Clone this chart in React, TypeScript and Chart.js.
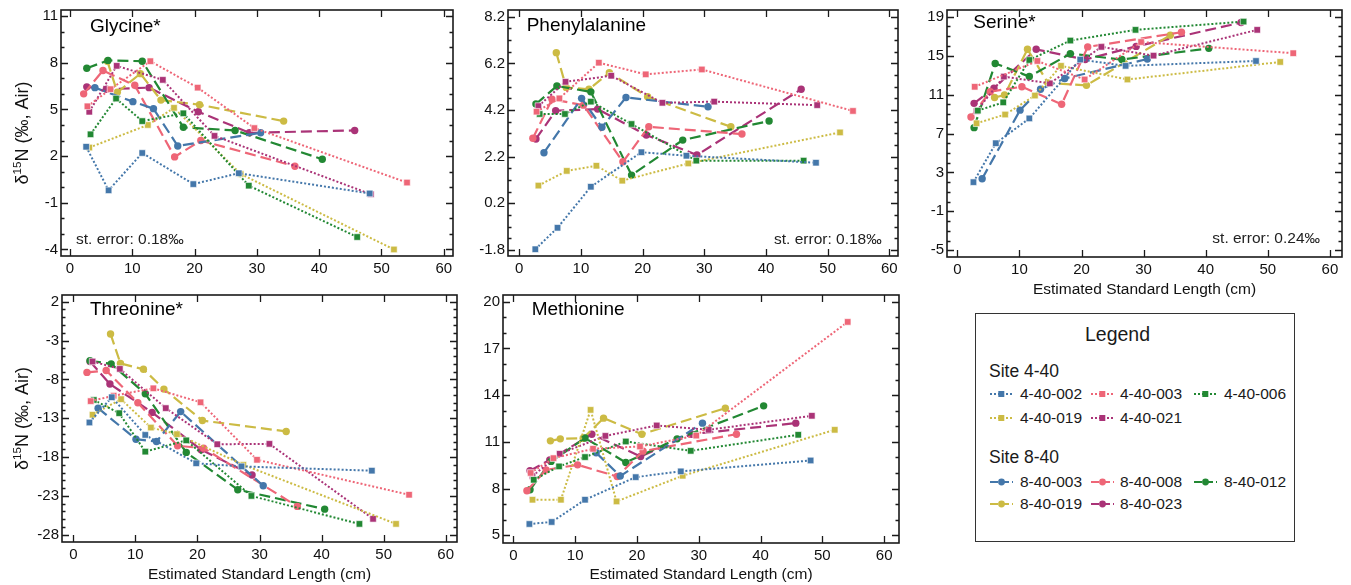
import React, { useEffect, useRef } from 'react';
import { Chart, registerables } from 'chart.js';

Chart.register(...registerables);

const FONT = '"Liberation Sans", Arial, Helvetica, sans-serif';

// ---------- specimens ----------
const SPECIMENS = ['4-40-002', '4-40-003', '4-40-006', '4-40-019', '4-40-021', '8-40-003', '8-40-008', '8-40-012', '8-40-019', '8-40-023'];
const COLORS = ['#4477AA', '#EE6677', '#228833', '#CCBB44', '#AA3377', '#4477AA', '#EE6677', '#228833', '#CCBB44', '#AA3377'];

// estimated standard length (cm) of each sampled increment, per specimen
const LEN_4_40_002 = [2.6, 6.2, 11.6, 19.8, 27.1, 48.1];
const LEN_4_40_003 = [2.8, 6.5, 12.9, 20.5, 29.6, 54.1];
const LEN_4_40_006 = [3.3, 7.4, 11.6, 18.2, 28.7, 46.1];
const LEN_4_40_019 = [3.1, 7.7, 12.5, 16.7, 27.4, 52.0];
const LEN_4_40_021 = [3.1, 7.5, 14.9, 23.2, 31.6, 48.3];
const LEN_8_40_003 = [4.0, 10.1, 13.4, 17.3, 30.6];
const LEN_8_40_008 = [2.2, 5.3, 10.4, 16.8, 21.0, 36.1];
const LEN_8_40_012 = [2.7, 6.1, 11.6, 18.2, 26.5, 40.5];
const LEN_8_40_019 = [6.0, 7.6, 11.3, 14.6, 20.8, 34.3];
const LEN_8_40_023 = [2.7, 5.9, 12.7, 20.6, 28.8, 45.7];
const LENGTHS = [LEN_4_40_002, LEN_4_40_003, LEN_4_40_006, LEN_4_40_019, LEN_4_40_021, LEN_8_40_003, LEN_8_40_008, LEN_8_40_012, LEN_8_40_019, LEN_8_40_023];

// d15N values, rows in SPECIMENS order (null = not shown)
const GLYCINE = [
  [2.6, -0.2, 2.2, 0.2, 0.9, -0.4],
  [5.2, 6.3, 8.1, 6.4, 3.8, 0.3],
  [3.4, 5.7, 4.25, 4.75, 0.1, -3.2],
  [2.55, null, 4.0, 5.1, 0.85, -4.0],
  [4.85, 7.8, 6.9, 3.3, null, -0.45],
  [6.4, 5.5, 5.05, 2.65, 3.5],
  [6.0, 7.5, 6.55, 1.95, 3.0, 1.35],
  [7.65, 8.15, 8.1, 3.85, 3.65, 1.8],
  [8.1, 6.1, 7.3, 5.6, 5.3, 4.25],
  [6.45, 6.3, 6.4, 4.85, 3.5, 3.65],
];
const PHENYLALANINE = [
  [-1.77, -0.85, 0.91, 2.39, 2.24, 1.94],
  [4.13, 4.7, 6.23, 5.73, 5.94, 4.16],
  [4.03, 4.03, 4.56, 3.6, 2.03, 2.03],
  [0.96, 1.59, 1.81, 1.17, 1.91, 3.24],
  [4.37, 5.41, 5.67, 4.51, 4.56, 4.41],
  [2.37, 4.7, 3.46, 4.74, 4.34],
  [2.99, 4.66, 4.41, 1.98, 3.48, 3.17],
  [4.46, 5.23, 4.98, 1.41, 2.91, 3.73],
  [6.66, 5.17, 5.09, 5.8, 4.77, 3.48],
  [2.96, 4.17, 4.24, 3.13, 2.27, 5.09],
];
const SERINE = [
  [2.0, 6.0, 8.55, 14.6, 13.95, 14.45],
  [11.8, null, 14.45, 12.55, 16.4, 15.25],
  [9.35, 10.2, 14.55, 16.55, 17.65, 18.5],
  [8.05, 8.95, 10.9, 13.95, 12.55, 14.35],
  [9.3, 12.85, 12.15, 15.9, 15.0, 17.65],
  [2.35, 9.4, 11.55, 12.65, 14.65],
  [8.7, 11.3, 11.8, 10.0, 15.9, 17.4],
  [7.6, 14.2, 12.85, 15.2, 14.6, 15.75],
  [10.7, 10.95, 15.65, 12.2, 11.95, 17.1],
  [10.1, 11.65, 15.65, 14.6, 15.95, 18.4],
];
const THREONINE = [
  [-13.55, -10.3, -15.15, -18.8, -19.2, -19.75],
  [-10.8, -10.1, -9.15, -10.95, -18.35, -22.85],
  [-10.65, -12.35, -17.3, -15.85, -23.0, -26.6],
  [-12.55, -10.55, -14.2, -15.05, -19.0, -26.6],
  [-5.7, -6.65, -11.7, -16.35, -16.3, -25.95],
  [-11.7, -15.7, -16.0, -12.15, -21.7],
  [-7.1, -6.85, -11.0, -16.55, -16.85, -24.35],
  [-5.6, -6.0, -9.85, -17.4, -22.2, -24.7],
  [-2.15, -5.95, -6.7, -9.25, -13.3, -14.7],
  [-5.7, -8.6, -12.25, -17.05, -20.3, null],
];
const METHIONINE = [
  [5.72, 5.85, 7.28, 8.73, 9.1, 9.8],
  [9.0, 9.95, 10.55, 10.7, 11.4, 18.7],
  [8.56, 9.42, 10.02, 11.02, 10.42, 11.45],
  [7.28, 7.28, 13.05, 7.17, 8.82, 11.77],
  [8.8, 10.23, 11.38, 12.05, 11.77, 12.67],
  [null, null, 10.3, 8.8, 12.2],
  [7.86, 9.2, 9.52, 8.77, 10.4, 11.49],
  [7.92, 9.74, 11.24, 9.67, 11.19, 13.31],
  [11.06, 11.19, 11.23, 12.52, 11.49, 13.16],
  [9.14, 9.84, 11.49, 10.06, 11.49, 12.2],
];

// ---------- ticks ----------
const X_TICKS = [0, 10, 20, 30, 40, 50, 60];
const GLY_TICKS = [11, 8, 5, 2, -1, -4];
const PHE_TICKS = [8.2, 6.2, 4.2, 2.2, 0.2, -1.8];
const SER_TICKS = [19, 15, 11, 7, 3, -1, -5];
const THR_TICKS = [2, -3, -8, -13, -18, -23, -28];
const MET_TICKS = [20, 17, 14, 11, 8, 5];

const X_TITLE = 'Estimated Standard Length (cm)';

type PanelDef = {
  title: string;
  rows: (number | null)[][];
  yTicks: number[];
  minor: number;
  yRange: [number, number];
  xRange: [number, number];
  canvas: [number, number, number, number]; // left, top, width, height
  area: [number, number, number, number]; // left, top, right, bottom (page coords)
  titleAt: [number, number];
  yTitle: boolean;
  xTitleY?: number;
  stErr?: string;
  stErrSide?: 'left' | 'right';
  stErrAt?: [number, number];
};

const PANELS: PanelDef[] = [
  { title: 'Glycine*', rows: GLYCINE, yTicks: GLY_TICKS, minor: 1, yRange: [-4.42, 11.39], xRange: [-1.44, 61.48],
    canvas: [0, 0, 460, 287], area: [61, 10, 453, 256], titleAt: [29, 16.7], yTitle: true,
    stErr: 'st. error: 0.18‰', stErrSide: 'left', stErrAt: [15, 16.7] },
  { title: 'Phenylalanine', rows: PHENYLALANINE, yTicks: PHE_TICKS, minor: 0.5, yRange: [-2.06, 8.49], xRange: [-1.83, 61.4],
    canvas: [462, 0, 443, 287], area: [508, 10, 898, 256], titleAt: [18.7, 16], yTitle: false,
    stErr: 'st. error: 0.18‰', stErrSide: 'right', stErrAt: [16.3, 16] },
  { title: 'Serine*', rows: SERINE, yTicks: SER_TICKS, minor: 1, yRange: [-5.69, 19.69], xRange: [-1.66, 61.95],
    canvas: [907, 0, 444, 300], area: [947, 10, 1342, 257], titleAt: [26.3, 12.7], yTitle: false, xTitleY: 290,
    stErr: 'st. error: 0.24‰', stErrSide: 'right', stErrAt: [22, 18] },
  { title: 'Threonine*', rows: THREONINE, yTicks: THR_TICKS, minor: 1, yRange: [-28.93, 2.86], xRange: [-1.82, 61.82],
    canvas: [0, 287, 462, 298], area: [62, 295, 457, 542], titleAt: [28, 14.3], yTitle: true, xTitleY: 575 },
  { title: 'Methionine', rows: METHIONINE, yTicks: MET_TICKS, minor: 1, yRange: [4.5, 20.43], xRange: [-1.67, 62.4],
    canvas: [464, 287, 441, 298], area: [503, 295, 899, 543], titleAt: [28.7, 14.3], yTitle: false, xTitleY: 575 },
];

function makeDecor(def: PanelDef) {
  return {
    id: 'decor',
    afterDraw(chart: any) {
      const { ctx, chartArea: a } = chart;
      const xs = chart.scales.x;
      const ys = chart.scales.y;
      ctx.save();
      ctx.strokeStyle = '#1a1a1a';
      ctx.lineWidth = 1.6;
      ctx.strokeRect(a.left, a.top, a.right - a.left, a.bottom - a.top);
      ctx.lineWidth = 1.3;
      ctx.beginPath();
      const MAJ = 7;
      const MIN = 3.5;
      def.yTicks.forEach((v) => {
        const p = Math.round(ys.getPixelForValue(v)) + 0.5;
        ctx.moveTo(a.left, p); ctx.lineTo(a.left + MAJ, p);
        ctx.moveTo(a.right, p); ctx.lineTo(a.right - MAJ, p);
      });
      const sorted = [...def.yTicks].sort((m, n) => m - n);
      const lo = sorted[0];
      const hi = sorted[sorted.length - 1];
      const n = Math.round((hi - lo) / def.minor);
      for (let i = 0; i <= n; i++) {
        const v = lo + i * def.minor;
        if (def.yTicks.some((t) => Math.abs(t - v) < 1e-6)) continue;
        const p = Math.round(ys.getPixelForValue(v)) + 0.5;
        ctx.moveTo(a.left, p); ctx.lineTo(a.left + MIN, p);
        ctx.moveTo(a.right, p); ctx.lineTo(a.right - MIN, p);
      }
      X_TICKS.forEach((v) => {
        const p = Math.round(xs.getPixelForValue(v)) + 0.5;
        ctx.moveTo(p, a.bottom); ctx.lineTo(p, a.bottom - MAJ);
        ctx.moveTo(p, a.top); ctx.lineTo(p, a.top + MAJ);
      });
      ctx.stroke();

      ctx.fillStyle = '#000';
      ctx.textBaseline = 'middle';
      ctx.textAlign = 'left';
      ctx.font = `19px ${FONT}`;
      ctx.fillText(def.title, a.left + def.titleAt[0], a.top + def.titleAt[1]);

      if (def.stErr && def.stErrAt) {
        ctx.font = `15.5px ${FONT}`;
        ctx.fillStyle = '#222';
        if (def.stErrSide === 'left') {
          ctx.textAlign = 'left';
          ctx.fillText(def.stErr, a.left + def.stErrAt[0], a.bottom - def.stErrAt[1]);
        } else {
          ctx.textAlign = 'right';
          ctx.fillText(def.stErr, a.right - def.stErrAt[0], a.bottom - def.stErrAt[1]);
        }
      }

      if (def.xTitleY !== undefined) {
        ctx.font = `15.5px ${FONT}`;
        ctx.fillStyle = '#111';
        ctx.textAlign = 'center';
        ctx.fillText(X_TITLE, (a.left + a.right) / 2, def.xTitleY - def.canvas[1]);
      }

      if (def.yTitle) {
        ctx.save();
        ctx.translate(23.5, (a.top + a.bottom) / 2);
        ctx.rotate(-Math.PI / 2);
        ctx.fillStyle = '#111';
        ctx.textAlign = 'left';
        const big = `18px ${FONT}`;
        const small = `11.5px ${FONT}`;
        const parts: [string, string, number][] = [['δ', big, 0], ['15', small, -5.5], ['N (‰, Air)', big, 0]];
        let total = 0;
        parts.forEach(([t, f]) => { ctx.font = f; total += ctx.measureText(t).width; });
        let cx = -total / 2;
        parts.forEach(([t, f, dy]) => {
          ctx.font = f;
          ctx.fillText(t, cx, dy);
          cx += ctx.measureText(t).width;
        });
        ctx.restore();
      }
      ctx.restore();
    },
  };
}

function Panel({ def }: { def: PanelDef }) {
  const ref = useRef<HTMLCanvasElement | null>(null);
  useEffect(() => {
    if (!ref.current) return;
    const [cl, ct, cw, ch] = def.canvas;
    const [al, at, ar, ab] = def.area;
    const yW = al - cl;
    const xH = ct + ch - ab;
    const datasets = def.rows.map((row, i) => {
      const site440 = i < 5;
      const pts = LENGTHS[i]
        .map((x, j) => ({ x, y: row[j] }))
        .filter((p) => p.y !== null && p.y !== undefined);
      return {
        label: SPECIMENS[i],
        data: pts,
        borderColor: COLORS[i],
        backgroundColor: COLORS[i],
        borderWidth: site440 ? 2 : 2.2,
        borderDash: site440 ? [2, 2] : [11, 5],
        pointStyle: site440 ? 'rect' : 'circle',
        pointRadius: site440 ? 4.6 : 3.7,
        pointBorderWidth: site440 ? 1 : 0,
        pointBorderColor: 'rgba(255,255,255,0.6)',
        pointBackgroundColor: COLORS[i],
        tension: 0,
        fill: false,
        spanGaps: true,
      };
    });
    const tickFont = { family: FONT, size: 15 };
    const chart = new Chart(ref.current, {
      type: 'line',
      data: { datasets } as any,
      options: {
        animation: false,
        responsive: false,
        maintainAspectRatio: false,
        devicePixelRatio: 1,
        layout: { autoPadding: false, padding: { left: 0, top: at - ct, right: cl + cw - ar, bottom: 0 } } as any,
        plugins: { legend: { display: false }, tooltip: { enabled: false } },
        scales: {
          x: {
            type: 'linear',
            min: def.xRange[0],
            max: def.xRange[1],
            grid: { display: false, drawTicks: false },
            border: { display: false },
            afterBuildTicks: (s: any) => { s.ticks = X_TICKS.map((v) => ({ value: v })); },
            afterFit: (s: any) => { s.height = xH; s.paddingLeft = 0; s.paddingRight = 0; },
            ticks: { font: tickFont, color: '#111', padding: 4, maxRotation: 0, autoSkip: false, callback: (v: any) => String(v) },
          },
          y: {
            type: 'linear',
            min: def.yRange[0],
            max: def.yRange[1],
            grid: { display: false, drawTicks: false },
            border: { display: false },
            afterBuildTicks: (s: any) => { s.ticks = def.yTicks.map((v) => ({ value: v })); },
            afterFit: (s: any) => { s.width = yW; s.paddingTop = 0; s.paddingBottom = 0; },
            ticks: { font: tickFont, color: '#111', padding: 3, autoSkip: false, callback: (v: any) => String(v) },
          },
        },
      } as any,
      plugins: [makeDecor(def)],
    });
    return () => chart.destroy();
  }, [def]);
  const [cl, ct, cw, ch] = def.canvas;
  return (
    <canvas
      ref={ref}
      width={cw}
      height={ch}
      style={{ position: 'absolute', left: cl, top: ct, width: cw, height: ch }}
    />
  );
}

function Swatch({ index, left, y }: { index: number; left: number; y: number }) {
  const c = COLORS[index];
  const site440 = index < 5;
  return (
    <svg width={24} height={12} style={{ position: 'absolute', left, top: y - 6 }}>
      <line x1={0} y1={6} x2={23} y2={6} stroke={c} strokeWidth={site440 ? 1.8 : 2}
        strokeDasharray={site440 ? '2 2' : '8 3'} />
      {site440 ? (
        <rect x={8.3} y={3} width={6} height={6} fill={c} />
      ) : (
        <circle cx={11.5} cy={6} r={3.4} fill={c} />
      )}
    </svg>
  );
}

const LEGEND_ROWS_Y = [394.3, 418.3, 482.3, 504.3];
const LEGEND_COL_SWATCH = [990, 1091, 1194];
const LEGEND_COL_TEXT = [1020, 1120, 1224];

function Legend() {
  const entries: { idx: number; row: number; col: number }[] = [
    { idx: 0, row: 0, col: 0 }, { idx: 1, row: 0, col: 1 }, { idx: 2, row: 0, col: 2 },
    { idx: 3, row: 1, col: 0 }, { idx: 4, row: 1, col: 1 },
    { idx: 5, row: 2, col: 0 }, { idx: 6, row: 2, col: 1 }, { idx: 7, row: 2, col: 2 },
    { idx: 8, row: 3, col: 0 }, { idx: 9, row: 3, col: 1 },
  ];
  const txt = (text: string, left: number, y: number, size: number, center = false) => (
    <span
      key={text + left + y}
      style={{
        position: 'absolute', left, top: y, transform: center ? 'translate(-50%, -50%)' : 'translateY(-50%)',
        fontSize: size, lineHeight: 1, whiteSpace: 'nowrap', color: '#1a1a1a', fontFamily: FONT,
      }}
    >{text}</span>
  );
  return (
    <>
      <div style={{ position: 'absolute', left: 975, top: 313, width: 320, height: 229, border: '1.5px solid #333', boxSizing: 'border-box' }} />
      {txt('Legend', 1117.5, 334.5, 19.5, true)}
      {txt('Site 4-40', 989, 372.3, 17.5)}
      {txt('Site 8-40', 989, 458.3, 17.5)}
      {entries.map((e) => (
        <React.Fragment key={e.idx}>
          <Swatch index={e.idx} left={LEGEND_COL_SWATCH[e.col]} y={LEGEND_ROWS_Y[e.row]} />
          {txt(SPECIMENS[e.idx], LEGEND_COL_TEXT[e.col], LEGEND_ROWS_Y[e.row], 15.5)}
        </React.Fragment>
      ))}
    </>
  );
}

export default function App() {
  return (
    <div style={{ position: 'absolute', left: 0, top: 0, width: 1351, height: 585, background: '#fff', fontFamily: FONT, overflow: 'hidden' }}>
      {PANELS.map((p) => <Panel key={p.title} def={p} />)}
      <Legend />
    </div>
  );
}
